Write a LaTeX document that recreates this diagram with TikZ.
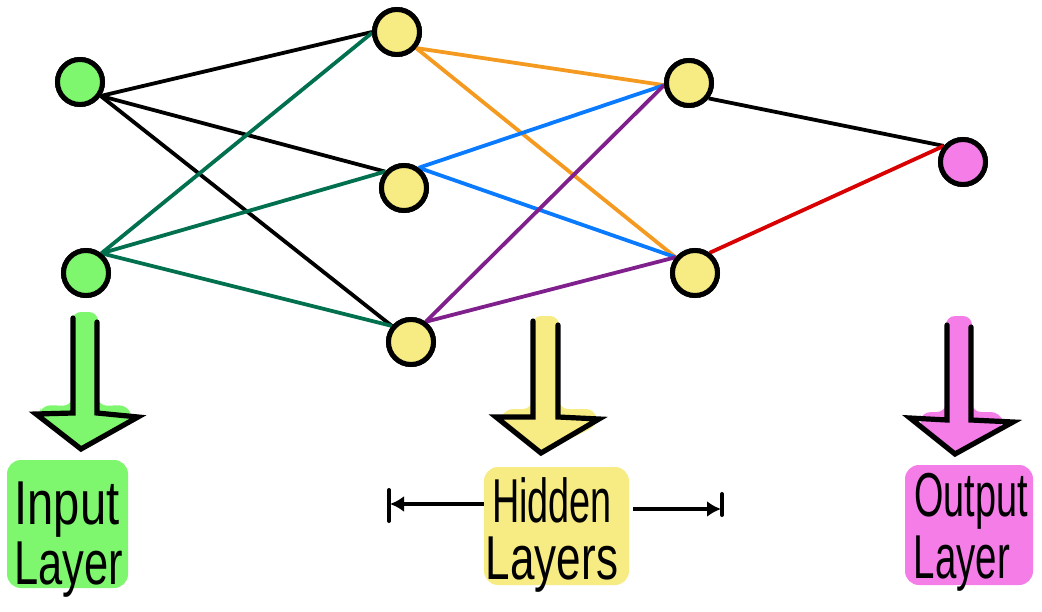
\documentclass[tikz,border=0pt]{standalone}
\usepackage{fontspec}
\setmainfont{Liberation Sans}
\usetikzlibrary{arrows.meta}
\definecolor{gfill}{HTML}{7EF66E}
\definecolor{yfill}{HTML}{F7EB83}
\definecolor{pfill}{HTML}{F57DE8}
\definecolor{teal2}{HTML}{00704F}
\definecolor{orange2}{HTML}{F59A20}
\definecolor{blue2}{HTML}{0A7BFF}
\definecolor{purple2}{HTML}{80208C}
\definecolor{red2}{HTML}{D80000}
\tikzset{
  neuron/.style={circle, draw=black, line width=5pt, minimum size=45pt, inner sep=0pt},
  edge/.style={line width=3.8pt},
  outl/.style={draw=black, line width=5.2pt, line join=miter, line cap=round},
  lbox/.style={rectangle, rounded corners=14pt, draw=none, inner sep=0pt},
  hand/.style={font=\fontsize{62}{62}\selectfont, inner sep=0pt, anchor=base},
  side/.style={line width=4pt, -{Latex[length=14pt,width=16pt]}},
  barline/.style={line width=4pt, line cap=round}
}
\begin{document}
\begin{tikzpicture}[x=1pt,y=-1pt]
\useasboundingbox (0,0) rectangle (1042,611);

% neurons (placed first so edges can reference them, redrawn later on top)
\node[neuron, fill=gfill] (I1) at (80,82) {};
\node[neuron, fill=gfill] (I2) at (86,273) {};
\node[neuron, fill=yfill] (H1) at (397,32) {};
\node[neuron, fill=yfill] (H2) at (404,188) {};
\node[neuron, fill=yfill] (H3) at (411,342) {};
\node[neuron, fill=yfill] (G1) at (689,83) {};
\node[neuron, fill=yfill] (G2) at (695,273) {};
\node[neuron, fill=pfill] (O) at (963,162) {};

% edges
\draw[edge, black] (I1.-34) -- (H1.180);
\draw[edge, black] (I1.-34) -- (H2.139);
\draw[edge, black] (I1.-34) -- (H3.140);
\draw[edge, teal2] (I2.52) -- (H1.182);
\draw[edge, teal2] (I2.52) -- (H2.139);
\draw[edge, teal2] (I2.52) -- (H3.140);
\draw[edge, orange2] (H1.-40) -- (G1.185);
\draw[edge, orange2] (H1.-40) -- (G2.141);
\draw[edge, blue2] (H2.54) -- (G1.185);
\draw[edge, blue2] (H2.54) -- (G2.141);
\draw[edge, purple2] (H3.54) -- (G1.185);
\draw[edge, purple2] (H3.54) -- (G2.141);
\draw[edge, black] (G1.-38) -- (O.140);
\draw[edge, red2] (G2.54) -- (O.140);

% redraw neurons on top
\node[neuron, fill=gfill] at (I1) {};
\node[neuron, fill=gfill] at (I2) {};
\node[neuron, fill=yfill] at (H1) {};
\node[neuron, fill=yfill] at (H2) {};
\node[neuron, fill=yfill] at (H3) {};
\node[neuron, fill=yfill] at (G1) {};
\node[neuron, fill=yfill] at (G2) {};
\node[neuron, fill=pfill] at (O) {};

% big arrows: input
\fill[gfill, rounded corners=9pt] (72,312) -- (98,312) -- (98,406) -- (128,405) -- (133,421) -- (81,449) -- (38,416) -- (42,405) -- (72,406) -- cycle;
\draw[outl] (73,318) -- (73,413) -- (36,414) -- (81,449) -- (138,417) -- (97,413) -- (97,322);
% hidden
\fill[yfill, rounded corners=9pt] (532,316) -- (559,316) -- (559,409) -- (595,409) -- (598,425) -- (541,453) -- (500,422) -- (504,409) -- (532,409) -- cycle;
\draw[outl] (533,321) -- (533,417) -- (496,417) -- (541,453) -- (599,419) -- (558,417) -- (558,325);
% output
\fill[pfill, rounded corners=9pt] (946,316) -- (972,316) -- (972,412) -- (1000,412) -- (1004,426) -- (955,454) -- (918,424) -- (922,412) -- (946,412) -- cycle;
\draw[outl] (947,325) -- (947,420) -- (910,418) -- (955,454) -- (1013,422) -- (971,420) -- (971,327);

% label boxes
\node[lbox, fill=gfill, minimum width=121pt, minimum height=128pt] (inbox) at (67.5,524) {};
\node[lbox, fill=yfill, minimum width=145pt, minimum height=118pt] (hidbox) at (556.5,526) {};
\node[lbox, fill=pfill, minimum width=128pt, minimum height=120pt] (outbox) at (969,525) {};

% texts
\node[hand] (t1) at (67,524) {\scalebox{0.76}[1]{Input}};
\node[hand] (t2) at (69,584) {\scalebox{0.70}[1]{Layer}};
\node[hand] (t3) at (552,522) {\scalebox{0.61}[1]{Hidden}};
\node[hand] (t4) at (552,579) {\scalebox{0.71}[1]{Layers}};
\node[hand] (t5) at (971,516) {\scalebox{0.61}[1]{Output}};
\node[hand] (t6) at (962,578) {\scalebox{0.62}[1]{Layer}};

% side arrows
\coordinate (lb) at (390,504);
\coordinate (rb) at (721,509);
\draw[side] ([yshift=22pt]hidbox.west) -- (lb);
\draw[side] ([yshift=17pt,xshift=4pt]hidbox.east) -- (rb);
\draw[barline] (389,490) -- (389,521);
\draw[barline] (722,494) -- (722,515);
\end{tikzpicture}
\end{document}
